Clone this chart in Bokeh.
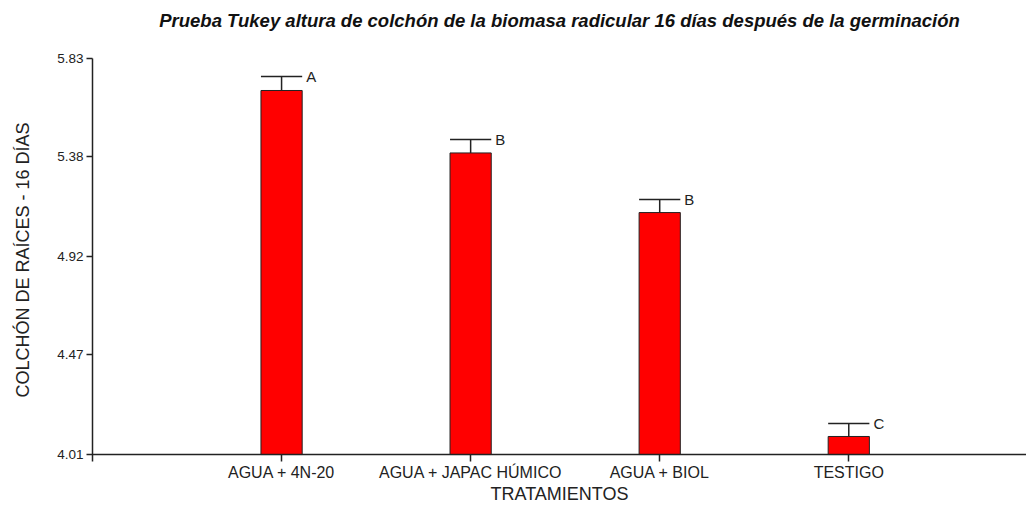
from bokeh.plotting import figure
from bokeh.models import FixedTicker, Span, ColumnDataSource, Range1d
from bokeh.core.properties import value
from bokeh.embed import file_html
from bokeh.resources import INLINE

categories = ["AGUA + 4N-20", "AGUA + JAPAC HÚMICO", "AGUA + BIOL", "TESTIGO"]
means = [5.683, 5.396, 5.122, 4.093]
errors = [0.064, 0.062, 0.060, 0.060]
letters = ["A", "B", "B", "C"]
y_ticks = [4.01, 4.47, 4.92, 5.38, 5.83]

xpos = [1, 2, 3, 4]
bar_w = 0.218
base = 4.01

src = ColumnDataSource(dict(
    x=xpos, top=means, bottom=[base] * 4,
    etop=[m + e for m, e in zip(means, errors)],
    x0=[x - bar_w / 2 for x in xpos], x1=[x + bar_w / 2 for x in xpos],
    lx=[x + bar_w / 2 for x in xpos], lab=letters,
))

FONT = "Liberation Sans"

p = figure(width=1026, height=506, output_backend="svg", toolbar_location=None,
           x_range=Range1d(0, 4.94), y_range=Range1d(3.978, 5.83),
           min_border_left=92, min_border_right=0, min_border_top=58, min_border_bottom=45,
           title="Prueba Tukey altura de colchón de la biomasa radicular 16 días después de la germinación\n ")
p.title.align = "center"
p.title.text_font = FONT
p.title.text_font_style = "bold italic"
p.title.text_font_size = "18.5px"
p.title.text_color = "#111111"
p.title.standoff = 13
p.outline_line_color = None
p.grid.visible = False
p.background_fill_color = "white"

p.vbar(x="x", width=bar_w, top="top", bottom="bottom", source=src,
       fill_color="#ff0000", line_color="#222222", line_width=1)
p.segment(x0="x", y0="top", x1="x", y1="etop", source=src, line_color="#222222", line_width=1.5)
p.segment(x0="x0", y0="etop", x1="x1", y1="etop", source=src, line_color="#222222", line_width=1.5)
p.text(x="lx", y="etop", text="lab", source=src, x_offset=4, text_baseline="middle",
       text_align="left", text_font=value(FONT), text_font_size="15px", text_color="#222222")

p.add_layout(Span(location=base, dimension="width", line_color="#222222", line_width=1.5))

p.xaxis.ticker = FixedTicker(ticks=xpos)
p.xaxis.major_label_overrides = {x: c for x, c in zip(xpos, categories)}
p.xaxis.axis_line_color = None
p.xaxis.major_tick_in = 7
p.xaxis.major_tick_out = 0
p.xaxis.minor_tick_line_color = None
p.xaxis.major_tick_line_color = "#222222"
p.xaxis.major_tick_line_width = 1.5
p.xaxis.major_label_text_font = FONT
p.xaxis.major_label_text_font_size = "16px"
p.xaxis.major_label_text_color = "#222222"
p.xaxis.major_label_standoff = 2
p.xaxis.axis_label = "TRATAMIENTOS"
p.xaxis.axis_label_text_font = FONT
p.xaxis.axis_label_text_font_size = "18px"
p.xaxis.axis_label_text_font_style = "normal"
p.xaxis.axis_label_text_color = "#222222"
p.xaxis.axis_label_standoff = 0

p.yaxis.ticker = FixedTicker(ticks=y_ticks)
p.yaxis.major_label_overrides = {t: f"{t:.2f}" for t in y_ticks}
p.yaxis.axis_line_color = "#222222"
p.yaxis.axis_line_width = 1.5
p.yaxis.major_tick_in = 0
p.yaxis.major_tick_out = 6
p.yaxis.minor_tick_line_color = None
p.yaxis.major_tick_line_color = "#222222"
p.yaxis.major_tick_line_width = 1.5
p.yaxis.major_label_text_font = FONT
p.yaxis.major_label_text_font_size = "13.5px"
p.yaxis.major_label_text_color = "#222222"
p.yaxis.major_label_standoff = 3
p.yaxis.axis_label = "COLCHÓN DE RAÍCES - 16 DÍAS"
p.yaxis.axis_label_text_font = FONT
p.yaxis.axis_label_text_font_size = "18px"
p.yaxis.axis_label_text_font_style = "normal"
p.yaxis.axis_label_text_color = "#222222"
p.yaxis.axis_label_standoff = 21

open("out.html", "w").write(file_html(p, INLINE))
